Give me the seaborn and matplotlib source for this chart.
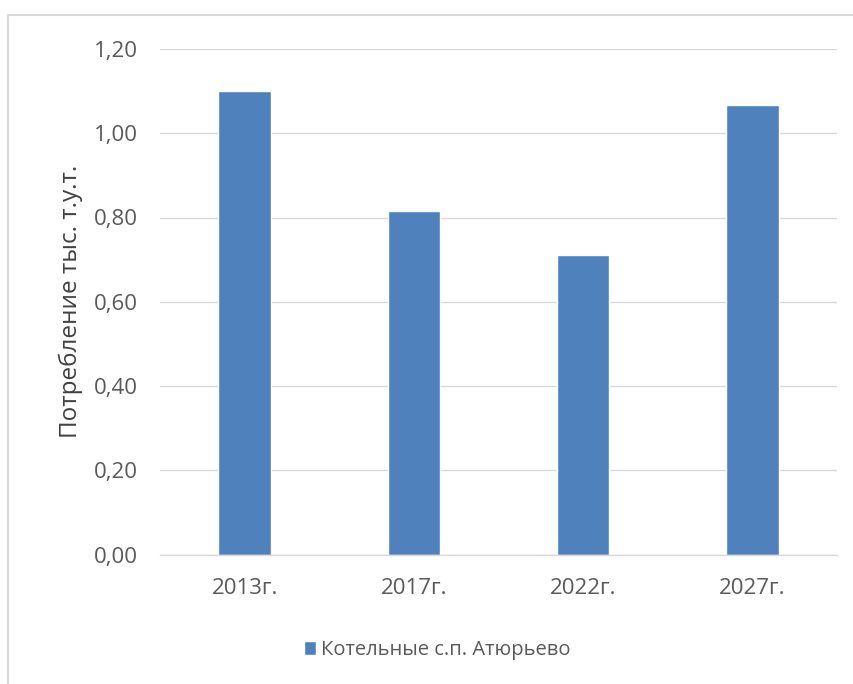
import matplotlib
matplotlib.use("Agg")
import matplotlib.pyplot as plt
import seaborn as sns
import pandas as pd
from matplotlib.patches import Rectangle

years = ["2013г.", "2017г.", "2022г.", "2027г."]
values = [1.100, 0.815, 0.712, 1.067]
series_name = "Котельные с.п. Атюрьево"
y_ticks = [0.0, 0.2, 0.4, 0.6, 0.8, 1.0, 1.2]
y_label = "Потребление тыс. т.у.т."

sns.set_theme(style="white")
plt.rcParams['font.family'] = ['Open Sans', 'DejaVu Sans']

df = pd.DataFrame({"year": years, "value": values, "series": series_name})

fig = plt.figure(figsize=(8.54, 6.84), dpi=100)
ax = fig.add_axes([160/854, 1-554.5/684, (837-160)/854, (554.5-49)/684])

sns.barplot(data=df, x="year", y="value", hue="series", palette=["#4F81BD"],
            width=0.31, ax=ax, legend=True, saturation=1)

ax.set_ylim(0, 1.2)
ax.set_xlim(-0.5, 3.5)
ax.set_yticks(y_ticks)
ax.set_yticklabels([f"{t:.2f}".replace(".", ",") for t in y_ticks])
ax.yaxis.grid(True, color="#D9D9D9", linewidth=1)
ax.set_axisbelow(True)
for s in ["top", "right", "left"]:
    ax.spines[s].set_visible(False)
ax.spines["bottom"].set_color("#D9D9D9")
ax.spines["bottom"].set_linewidth(1)
ax.tick_params(axis="both", length=0, labelsize=16, colors="#595959")
ax.tick_params(axis="y", pad=16)
ax.tick_params(axis="x", pad=17)
ax.set_xlabel("")
ax.set_ylabel(y_label, fontsize=17.5, color="#404040", labelpad=8)

leg = ax.legend(loc="center left", bbox_to_anchor=(304/854, 1-650/684),
                bbox_transform=fig.transFigure, frameon=False, fontsize=14.5,
                handlelength=0.6, handleheight=0.7, handletextpad=0.25,
                borderaxespad=0, borderpad=0)
for t in leg.get_texts():
    t.set_color("#595959")

fig.patches.append(Rectangle((8/854, 0 - 0.05), 1.0, 1 - 15/684 + 0.05,
                             transform=fig.transFigure, fill=False,
                             edgecolor="#D9D9D9", linewidth=1.5))

fig.savefig("out.png", dpi=100)
